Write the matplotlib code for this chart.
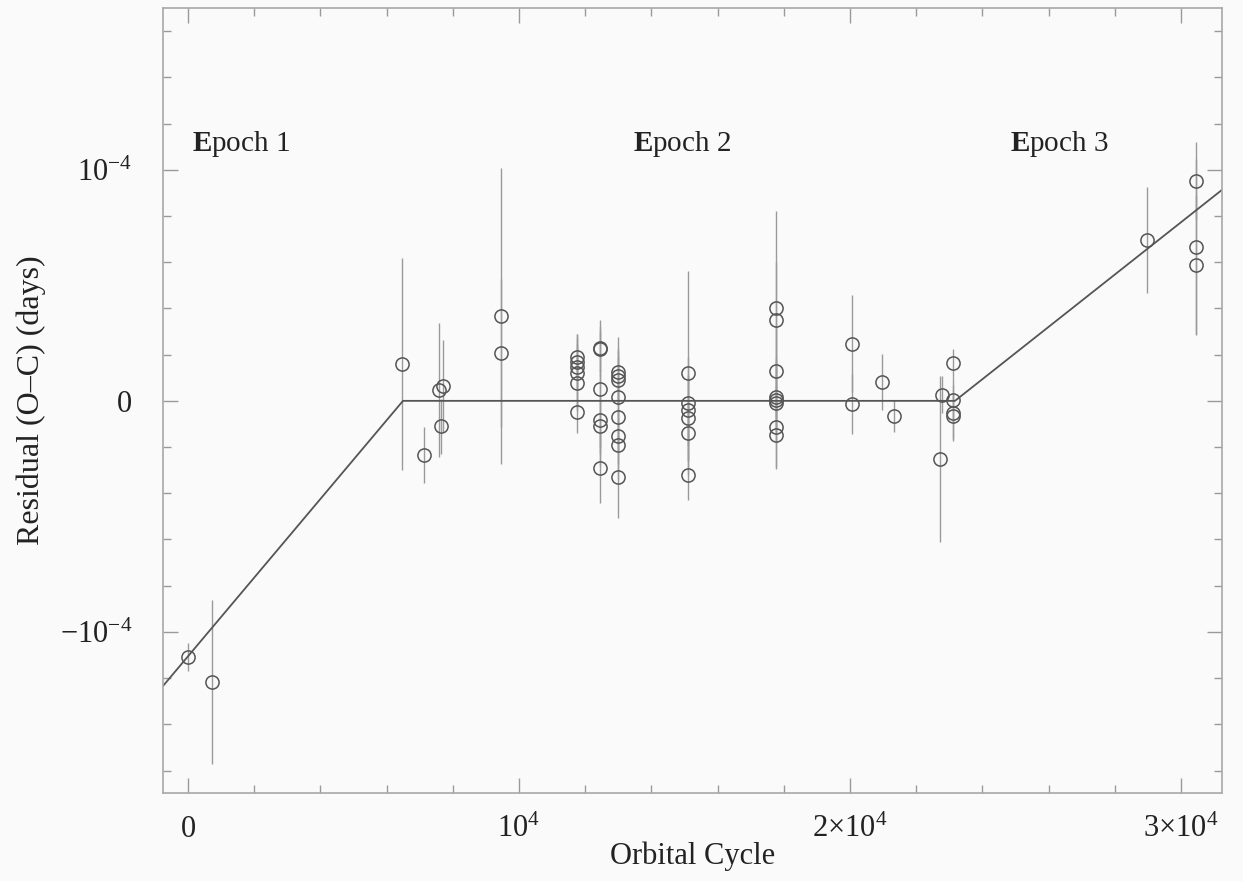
"""O-C residual diagram over three epochs with broken-line ephemeris fit."""
import numpy as np
import matplotlib
matplotlib.use("Agg")
import matplotlib.pyplot as plt
from matplotlib.ticker import FixedLocator, MultipleLocator

# --- data (residuals in units of 1e-4 days) ---
ep1_cycle = [0, 725]
ep1_resid = [-1.108, -1.216]
ep1_err = [0.06, 0.355]

ep2_cycle = [6465, 7130, 7583, 7704, 7644, 9456, 9456,
             11752, 11752, 11752, 11752, 11752, 11752,
             12447, 12447, 12447, 12447, 12447, 12447,
             12991, 12991, 12991, 12991, 12991, 12991, 12991, 12991,
             15106, 15106, 15106, 15106, 15106, 15106,
             17764, 17764, 17764, 17764, 17764, 17764, 17764, 17764,
             20060, 20060, 20967, 21329, 22719, 22779,
             23112, 23112, 23112, 23112]
ep2_resid = [0.16, -0.234, 0.048, 0.065, -0.11, 0.368, 0.208,
             0.190, 0.169, 0.147, 0.121, 0.078, -0.048,
             0.229, 0.225, 0.052, -0.082, -0.108, -0.29,
             0.126, 0.108, 0.091, 0.017, -0.069, -0.152, -0.19, -0.329,
             0.121, -0.009, -0.039, -0.074, -0.139, -0.32,
             0.403, 0.351, 0.130, 0.017, 0.004, -0.009, -0.113, -0.147,
             0.247, -0.013, 0.082, -0.065, -0.251, 0.026,
             0.165, 0.004, -0.052, -0.065]
ep2_err = [0.46, 0.12, 0.29, 0.20, 0.12, 0.64, 0.32,
           0.10, 0.12, 0.10, 0.15, 0.12, 0.09,
           0.12, 0.10, 0.25, 0.20, 0.12, 0.15,
           0.15, 0.12, 0.10, 0.20, 0.15, 0.12, 0.15, 0.18,
           0.44, 0.20, 0.15, 0.18, 0.12, 0.11,
           0.42, 0.25, 0.20, 0.15, 0.18, 0.12, 0.18, 0.14,
           0.21, 0.13, 0.12, 0.07, 0.36, 0.08,
           0.06, 0.10, 0.12, 0.10]

ep3_cycle = [28973, 30453, 30453, 30453]
ep3_resid = [0.697, 0.952, 0.667, 0.589]
ep3_err = [0.23, 0.17, 0.38, 0.30]

# broken-line fit (vertices)
fit_cycle = [-755, 6495, 23172, 31239]
fit_resid = [-1.234, 0.0, 0.0, 0.913]

epoch_names = ["Epoch 1", "Epoch 2", "Epoch 3"]
epoch_label_x = [1600, 14920, 26320]
x_tick_vals = [0, 10000, 20000, 30000]
x_tick_text = [r"$0$", r"$10^4$", r"$2{\times}10^4$", r"$3{\times}10^4$"]
y_tick_vals = [-1e-4, 0, 1e-4]
y_tick_text = [r"$-10^{-4}$", r"$0$", r"$10^{-4}$"]

plt.rcParams["font.family"] = ["Liberation Serif", "DejaVu Serif"]
plt.rcParams["mathtext.fontset"] = "custom"
plt.rcParams["mathtext.rm"] = "Liberation Serif"
plt.rcParams["mathtext.it"] = "Liberation Serif:italic"
plt.rcParams["mathtext.bf"] = "Liberation Serif:bold"

BG = "#fafafa"
fig = plt.figure(figsize=(12.43, 8.81), dpi=100, facecolor=BG)
ax = fig.add_axes([163 / 1243, 88 / 881, (1222 - 163) / 1243, (793 - 8) / 881])
ax.set_facecolor(BG)

scale = 1e-4
for cyc, res, err in [(ep1_cycle, ep1_resid, ep1_err),
                      (ep2_cycle, ep2_resid, ep2_err),
                      (ep3_cycle, ep3_resid, ep3_err)]:
    cyc = np.asarray(cyc, float)
    res = np.asarray(res, float) * scale
    err = np.asarray(err, float) * scale
    ax.errorbar(cyc, res, yerr=err, fmt="none", ecolor="#9a9a9a",
                elinewidth=1.0, capsize=0, zorder=2)
    ax.plot(cyc, res, "o", ms=9.5, mfc="none", mec="#555555", mew=1.1, zorder=3)

ax.plot(fit_cycle, np.asarray(fit_resid) * scale, color="#555555", lw=1.3, zorder=2)

for name, xl in zip(epoch_names, epoch_label_x):
    ax.text(xl, 1.112e-4, r"$\mathbf{E}$" + name[1:], fontsize=21,
            ha="center", va="center", color="#222222")

ax.set_xlim(-755, 31239)
ax.set_ylim(-1.697e-4, 1.70e-4)

ax.xaxis.set_major_locator(FixedLocator(x_tick_vals))
ax.set_xticklabels(x_tick_text)
ax.xaxis.set_minor_locator(MultipleLocator(2000))
ax.yaxis.set_major_locator(FixedLocator(y_tick_vals))
ax.set_yticklabels(y_tick_text)
ax.yaxis.set_minor_locator(MultipleLocator(2e-5))

ax.tick_params(which="both", direction="in", top=True, right=True,
               color="#9a9a9a", width=1.0, labelcolor="#222222")
ax.tick_params(which="major", length=11)
ax.tick_params(which="minor", length=6)
ax.tick_params(axis="x", which="major", labelsize=22, pad=16)
ax.tick_params(axis="y", which="major", labelsize=22, pad=22)
for sp in ax.spines.values():
    sp.set_color("#a8a8a8")
    sp.set_linewidth(1.2)

ax.set_xlabel("Orbital Cycle", fontsize=22, color="#222222", labelpad=-2)
ax.set_ylabel("Residual (O\u2013C) (days)", fontsize=23, color="#222222", labelpad=10)

fig.savefig("out.png", dpi=100, facecolor=BG)
